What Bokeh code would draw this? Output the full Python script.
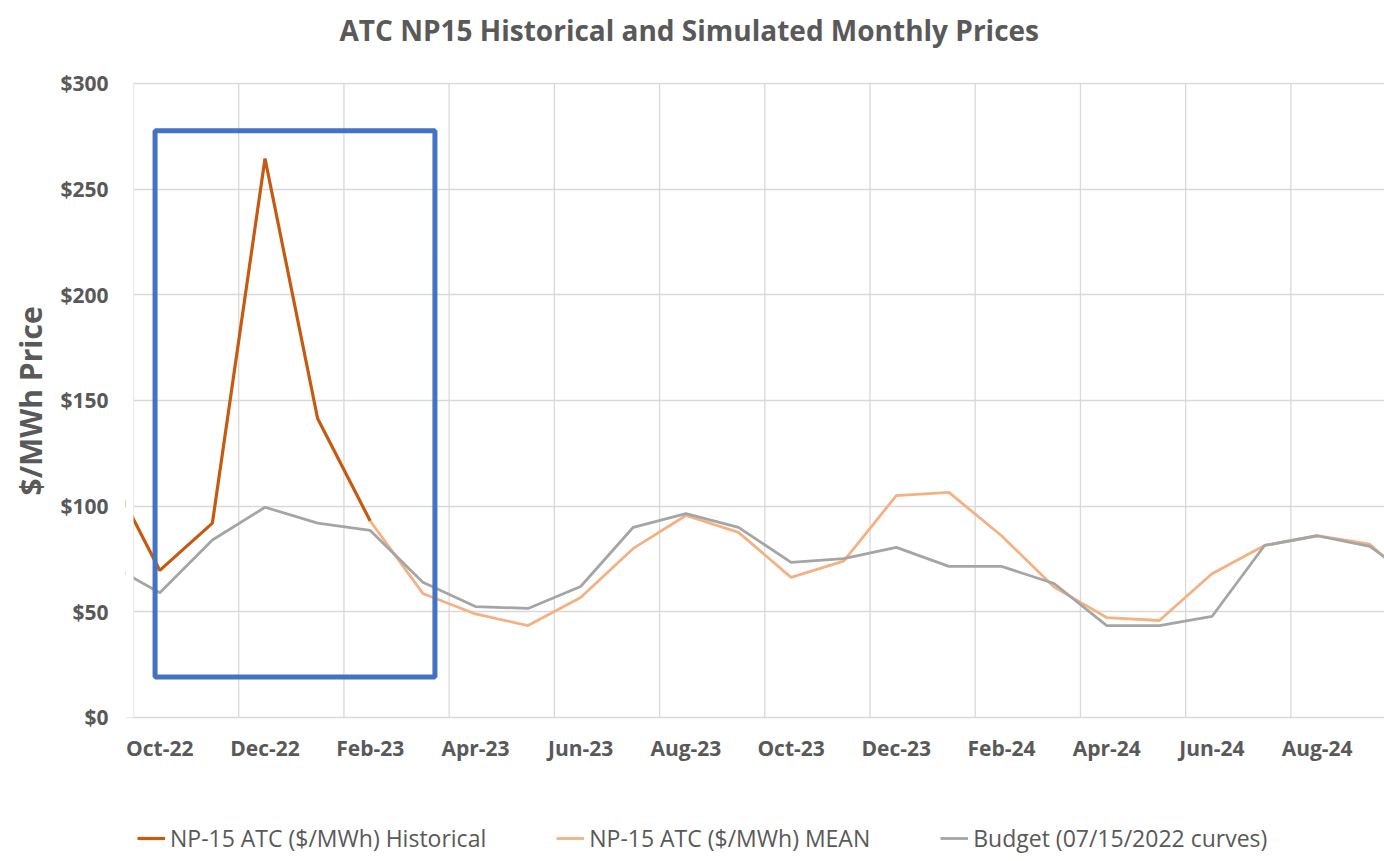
from bokeh.plotting import figure
from bokeh.models import (Range1d, FixedTicker, Legend, LegendItem, BoxAnnotation,
                          NumeralTickFormatter, Title)
from bokeh.embed import file_html
from bokeh.resources import INLINE

# ---------------- data ----------------
months = ["Sep-22", "Oct-22", "Nov-22", "Dec-22", "Jan-23", "Feb-23", "Mar-23", "Apr-23",
          "May-23", "Jun-23", "Jul-23", "Aug-23", "Sep-23", "Oct-23", "Nov-23", "Dec-23",
          "Jan-24", "Feb-24", "Mar-24", "Apr-24", "May-24", "Jun-24", "Jul-24", "Aug-24",
          "Sep-24", "Oct-24"]
# NP-15 ATC ($/MWh) Historical : Sep-22 .. Feb-23
historical = [118, 69.6, 92, 264.5, 141.5, 93]
# NP-15 ATC ($/MWh) MEAN : Feb-23 .. Oct-24
mean = [93, 58.7, 49, 43.5, 56.8, 80, 95.6, 87.6, 66.3, 74, 105, 106.5, 86, 61.7,
        47.3, 45.9, 68, 81.4, 86, 82, 60]
# Budget (07/15/2022 curves) : Sep-22 .. Oct-24
budget = [73, 59, 84, 99.5, 92, 88.5, 64, 52.5, 51.6, 62, 90, 96.5, 90, 73.4, 75.2,
          80.5, 71.5, 71.5, 63.4, 43.5, 43.5, 47.8, 81.4, 86, 81, 63]
tick_labels = ["Oct-22", "Dec-22", "Feb-23", "Apr-23", "Jun-23", "Aug-23", "Oct-23",
               "Dec-23", "Feb-24", "Apr-24", "Jun-24", "Aug-24"]
y_ticks = [0, 50, 100, 150, 200, 250, 300]
# highlight rectangle (month units from Oct-22 start, $)
box_left, box_right, box_bottom, box_top = 0.41, 5.73, 19.2, 277.6

# ---------------- positions ----------------
# month index 0 = Oct-22 spanning [0,1]; points at month centres
xpos = [i - 1 + 0.5 for i in range(len(months))]
hist_x = xpos[:len(historical)]
mean_x = xpos[5:5 + len(mean)]
bud_x = xpos[:len(budget)]
label_pos = [xpos[months.index(t)] for t in tick_labels]
grid_pos = [xpos[months.index(t)] - 0.5 for t in tick_labels]

FONT = "Open Sans"
GREY = "#595959"
GRID = "#d9d9d9"

# the frame reaches the bottom of the page so the legend can sit inside it,
# below the $0 line; the x axis is pinned at $0.  The frame starts a little left
# of Oct-22 so the first tick label is not clipped.
x_rng = Range1d(-0.152, 23.78)
y_rng = Range1d(-68.14, 300.47)
p = figure(frame_width=1259, frame_height=779, output_backend="svg",
           toolbar_location=None, x_range=x_rng, y_range=y_rng,
           min_border_left=125, min_border_right=0, min_border_top=82,
           min_border_bottom=0, background_fill_color="white",
           border_fill_color="white")
p.outline_line_color = None

# title (outermost in the top panel); a blank spacer title sits between it and the frame
p.title.text = "ATC NP15 Historical and Simulated Monthly Prices"
p.title.text_font = FONT
p.title.text_font_size = "28px"
p.title.text_font_style = "bold"
p.title.text_color = GREY
p.title.align = "left"
p.title.offset = 214
p.title.vertical_align = "bottom"
p.title.standoff = 0
p.add_layout(Title(text=" ", text_font_size="10px", standoff=21), "above")

# grids
p.xgrid.visible = False
p.ygrid.ticker = FixedTicker(ticks=y_ticks)
p.ygrid.grid_line_color = GRID
p.ygrid.grid_line_width = 1.3
n = len(grid_pos)
p.segment(x0=grid_pos, y0=[y_ticks[0]] * n, x1=grid_pos, y1=[y_ticks[-1]] * n,
          line_color=GRID, line_width=1.3, level="underlay")

# axes
p.xaxis.ticker = FixedTicker(ticks=label_pos)
p.xaxis.major_label_overrides = {lp: t for lp, t in zip(label_pos, tick_labels)}
p.xaxis.fixed_location = y_ticks[0]
p.yaxis.ticker = FixedTicker(ticks=y_ticks)
p.yaxis.formatter = NumeralTickFormatter(format="$0")
for ax in (p.xaxis, p.yaxis):
    ax.axis_line_color = None
    ax.minor_tick_line_color = None
    ax.major_tick_line_color = None
    ax.major_tick_in = 0
    ax.major_tick_out = 0
    ax.major_label_text_font = FONT
    ax.major_label_text_font_style = "bold"
    ax.major_label_text_font_size = "21px"
    ax.major_label_text_color = GREY
p.xaxis.major_label_standoff = 17
p.yaxis.major_label_standoff = 17

# y-axis title as a side title so it can be centred on the $0-$300 span
p.add_layout(Title(text="$/MWh Price", text_font=FONT, text_font_size="30px",
                   text_font_style="bold", text_color=GREY, align="left",
                   offset=366, vertical_align="bottom", standoff=13), "left")

# lines
r_hist = p.line(hist_x, historical, line_color="#C55A11", line_width=3.2)
r_mean = p.line(mean_x, mean, line_color="#F4B183", line_width=2.8)
r_bud = p.line(bud_x, budget, line_color="#A5A5A5", line_width=2.8)

# blank out the sliver of plot left of the Oct-22 grid line (above the $0 line only)
p.add_layout(BoxAnnotation(left=x_rng.start, right=grid_pos[0], bottom=y_ticks[0],
                           top=y_rng.end, fill_color="white", fill_alpha=1.0,
                           line_color=None, level="guide"))

# highlight box
p.add_layout(BoxAnnotation(left=box_left, right=box_right, bottom=box_bottom, top=box_top,
                           fill_alpha=0, line_color="#4472C4", line_alpha=1.0,
                           line_width=5))

legend = Legend(items=[
    LegendItem(label="NP-15 ATC ($/MWh) Historical", renderers=[r_hist]),
    LegendItem(label="NP-15 ATC ($/MWh) MEAN", renderers=[r_mean]),
    LegendItem(label="Budget (07/15/2022 curves)", renderers=[r_bud]),
], orientation="horizontal", location=(12, 7), padding=0, margin=0, spacing=70,
    glyph_width=28, label_standoff=5, border_line_color=None,
    background_fill_alpha=0, label_text_font=FONT, label_text_font_size="23px",
    label_text_color=GREY)
p.add_layout(legend, "center")

open("out.html", "w").write(file_html(p, INLINE))
